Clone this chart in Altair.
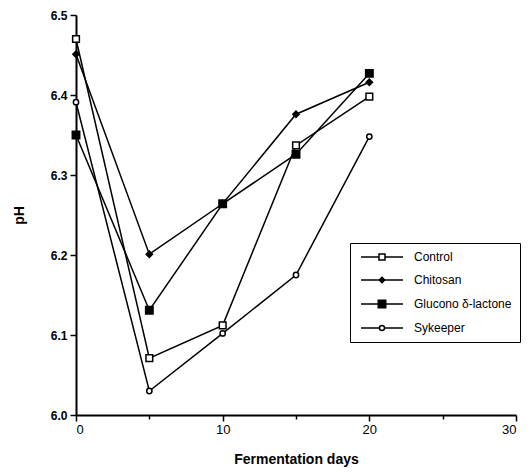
import altair as alt
import pandas as pd

days = [0, 5, 10, 15, 20]
series_names = ["Control", "Chitosan", "Glucono δ-lactone", "Sykeeper"]
control = [6.470, 6.071, 6.112, 6.337, 6.398]
chitosan = [6.451, 6.201, 6.264, 6.376, 6.416]
glucono = [6.350, 6.131, 6.264, 6.326, 6.427]
sykeeper = [6.391, 6.030, 6.102, 6.175, 6.348]

values = [control, chitosan, glucono, sykeeper]
rows = []
for name, vals in zip(series_names, values):
    for d, v in zip(days, vals):
        rows.append({"series": name, "day": d, "pH": v})
df = pd.DataFrame(rows)

# marker styles (plot)
marker_shape = {"Control": "square", "Chitosan": "diamond",
                "Glucono δ-lactone": "square", "Sykeeper": "circle"}
marker_fill = {"Control": "white", "Chitosan": "black",
               "Glucono δ-lactone": "black", "Sykeeper": "white"}
marker_size = {"Control": 45, "Chitosan": 40,
               "Glucono δ-lactone": 55, "Sykeeper": 28}

x_enc = alt.X("day:Q", title="Fermentation days",
              scale=alt.Scale(domain=[0, 30], nice=False, zero=False),
              axis=alt.Axis(values=[0, 5, 10, 15, 20, 25, 30],
                            labelExpr="datum.value % 10 == 0 ? datum.label : ''",
                            tickSize={"condition": {"test": "datum.value % 10 == 0", "value": 6}, "value": 4},
                            labelFontSize=13, labelPadding=2,
                            grid=False, titlePadding=16))
y_enc = alt.Y("pH:Q", title="pH",
              scale=alt.Scale(domain=[6.0, 6.5], nice=False, zero=False),
              axis=alt.Axis(values=[6.0, 6.05, 6.1, 6.15, 6.2, 6.25, 6.3, 6.35, 6.4, 6.45, 6.5],
                            labelExpr="abs(datum.value*10 - round(datum.value*10)) < 0.01 ? format(datum.value, '.1f') : ''",
                            tickSize={"condition": {"test": "abs(datum.value*10 - round(datum.value*10)) < 0.01", "value": 6}, "value": 4},
                            labelFontSize=12, labelFontWeight="bold", labelPadding=3,
                            grid=False, titlePadding=24))

base = alt.Chart(df)
lines = base.mark_line(color="black", strokeWidth=1.5).encode(
    x=x_enc, y=y_enc, detail="series:N", order="day:Q")

layers = [lines]
for name in series_names:
    layers.append(
        base.transform_filter(alt.datum.series == name).mark_point(
            shape=marker_shape[name], size=marker_size[name], filled=True,
            fill=marker_fill[name], stroke="black", strokeWidth=1.5, opacity=1
        ).encode(x="day:Q", y="pH:Q")
    )

# legend symbols: line segment + marker (custom paths)
legend_paths = [
    "M-4.2,0H-0.6M0.6,0H4.2M-0.6,-0.6H0.6V0.6H-0.6Z",
    "M-4.2,0H4.2M0,-0.55L0.55,0L0,0.55L-0.55,0Z",
    "M-4.2,0H-0.75M0.75,0H4.2M-0.75,-0.75H0.75V0.75H-0.75Z",
    "M-4.2,0H-0.5M0.5,0H4.2M-0.5,0A0.5,0.5,0,1,0,0.5,0A0.5,0.5,0,1,0,-0.5,0Z",
]
legend_fills = ["white", "black", "black", "white"]
legend_strokes = ["black", "black", "black", "black"]

leg = dict(title=None, orient="none", legendX=274, legendY=228,
           symbolSize=100, symbolOffset=18, labelOffset=26,
           symbolStrokeWidth=1.5,
           strokeColor="black", fillColor="white",
           padding=8, rowPadding=11,
           labelFont="Liberation Sans", labelFontSize=12, labelColor="black")

legend_layer = base.transform_filter("false").mark_point(
    filled=True, strokeWidth=1.5, opacity=1
).encode(
    x="day:Q", y="pH:Q",
    shape=alt.Shape("series:N", scale=alt.Scale(domain=series_names, range=legend_paths),
                    legend=alt.Legend(**leg)),
    fill=alt.Fill("series:N", scale=alt.Scale(domain=series_names, range=legend_fills),
                  legend=alt.Legend(**leg)),
    stroke=alt.Stroke("series:N", scale=alt.Scale(domain=series_names, range=legend_strokes),
                      legend=alt.Legend(**leg)),
)
layers.append(legend_layer)

chart = alt.layer(*layers).properties(
    width=440, height=400,
    autosize=alt.AutoSizeParams(type="none"),
    padding={"left": 68, "top": 7, "right": 8, "bottom": 52},
).configure_view(stroke=None).configure_axis(
    domainColor="black", domainWidth=2, tickColor="black", tickWidth=1.5,
    labelFont="Liberation Sans", labelColor="black",
    titleFont="Liberation Sans", titleFontSize=14, titleFontWeight="bold",
    titleColor="black",
)

chart.save("out.html", embed_options={"renderer": "svg", "actions": False})
